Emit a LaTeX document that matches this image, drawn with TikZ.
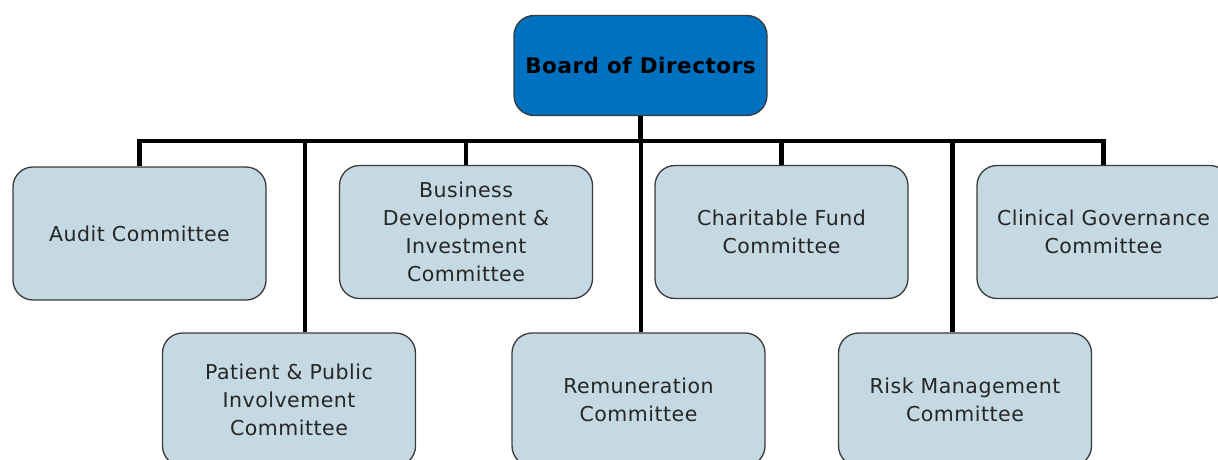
\documentclass[tikz,border=0pt]{standalone}
\usepackage{fontspec}
\setmainfont{DejaVu Sans}[LetterSpace=2.5]
\definecolor{boardblue}{HTML}{0070C0}
\definecolor{cttefill}{HTML}{C5D9E2}
\definecolor{edgegrey}{HTML}{3A3A3A}
\begin{document}
\begin{tikzpicture}[x=1pt,y=-1pt,
  box/.style={draw=edgegrey, line width=1.3pt, rounded corners=20pt,
    minimum width=253pt, minimum height=133pt, align=center,
    inner sep=0pt, font=\fontsize{20.5}{28}\selectfont, text=black!85},
  cttee/.style={box, fill=cttefill},
  boardbox/.style={box, fill=boardblue, minimum width=253pt,
    minimum height=100pt, font=\fontsize{21.5}{28}\selectfont\bfseries, text=black},
  conn/.style={draw=black, line width=4.5pt}]
\useasboundingbox (0,0) rectangle (1218,459);
\clip (0,0) rectangle (1218,459);

% bus level
\coordinate (bus) at (641,141);

% committees, upper row
\node[cttee] (audit) at (139.5,233.5) {Audit Committee};
\node[cttee] (bdi)   at (466,232)   {Business\\Development \&\\Investment\\Committee};
\node[cttee] (cfc)   at (781.5,232) {Charitable Fund\\Committee};
\node[cttee] (cgc)   at (1103.5,232) {Clinical Governance\\Committee};

% committees, lower row
\node[cttee] (ppi)   at (289,399.5) {Patient \& Public\\Involvement\\Committee};
\node[cttee] (rem)   at (638.5,399.5) {Remuneration\\Committee};
\node[cttee] (risk)  at (965,399.5) {Risk Management\\Committee};

% connectors
\draw[conn] (audit.north) |- (bus) -| (cgc.north);
\draw[conn] (bdi.north) -- (bdi.north |- bus);
\draw[conn] (cfc.north) -- (cfc.north |- bus);
\draw[conn] ([xshift=16pt]ppi.north) -- ([xshift=16pt]ppi.north |- bus);
\draw[conn] ([xshift=2.5pt]rem.north) -- ([xshift=2.5pt]rem.north |- bus);
\draw[conn] ([xshift=-12.5pt]risk.north) -- ([xshift=-12.5pt]risk.north |- bus);

% board
\node[boardbox] (board) at (640.5,65.5) {Board of Directors};
\draw[conn] (board.south) -- (board.south |- bus);
\end{tikzpicture}
\end{document}
